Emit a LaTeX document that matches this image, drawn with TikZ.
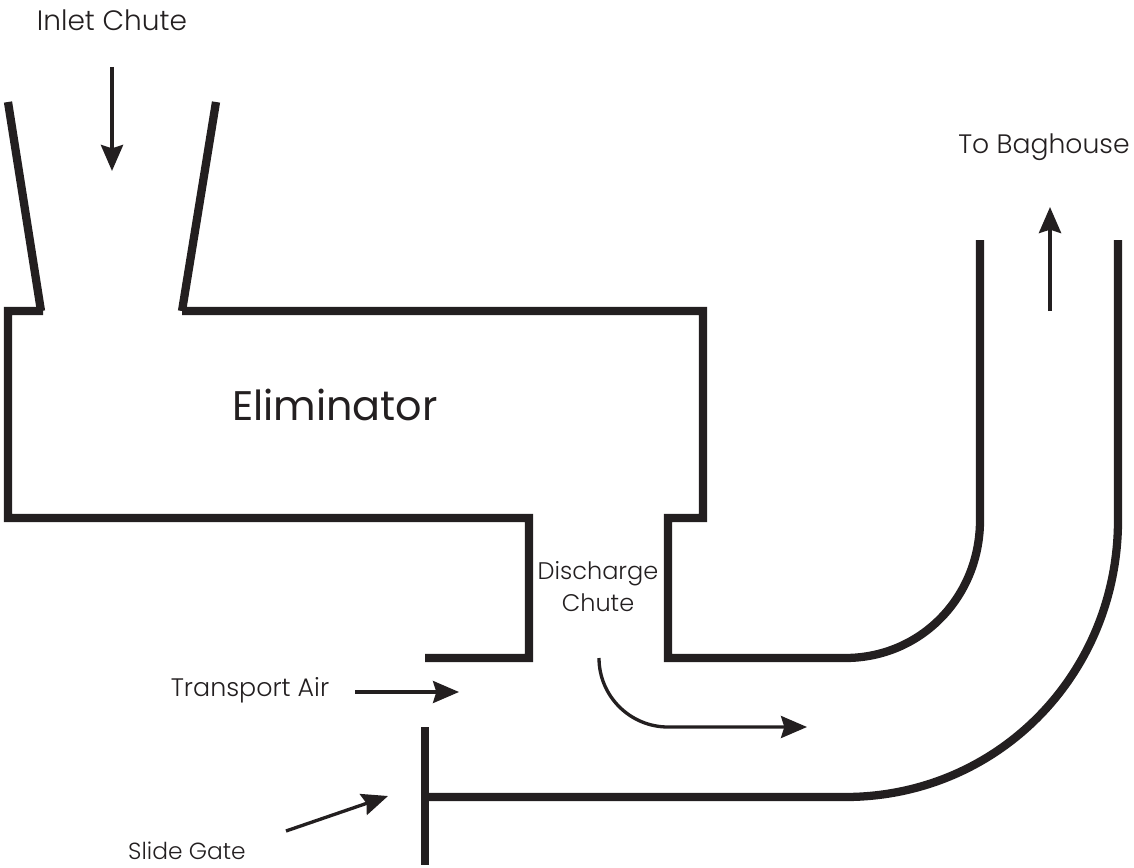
\documentclass[tikz,border=0pt]{standalone}
\usepackage{fontspec}
\setmainfont[UprightFont=* Light,BoldFont=*]{Poppins}
\usetikzlibrary{arrows.meta}
\definecolor{ink}{RGB}{35,31,32}
\tikzset{
  wall/.style={draw=ink,line width=6.2pt,line cap=butt,line join=miter},
  flow/.style={draw=ink,line width=2.5pt,-{Stealth[length=19.5pt,width=16.5pt,inset=2.5pt]}},
  heavyflow/.style={flow,line width=3pt},
  lab/.style={text=ink,align=center,inner sep=0pt},
  biglab/.style={text=ink,font=\bfseries\fontsize{31}{36}\selectfont,inner sep=0pt}
}
\begin{document}
\begin{tikzpicture}[x=0.75pt,y=-0.75pt]
\useasboundingbox (0,0) rectangle (1134,867);
% walls
\draw[wall] (8,102) -- (41,311) (43,311) -- (8,311) -- (8,518) -- (529,518) -- (529,658) -- (425,658);
\draw[wall] (216,102) -- (182,311) (182,311) -- (703,311) -- (703,518) -- (668,518) -- (668,658) -- (845,658)
  .. controls (921,658) and (980,597) .. (980,520) -- (980,240);
\draw[wall] (1118,240) -- (1118,520) .. controls (1118,674) and (998,797) .. (845,797) -- (425,797);
\draw[wall] (425,727) -- (425,865);
% flow endpoints
\coordinate (inA) at (112,67);   \coordinate (inB) at (112,171);
\coordinate (bagA) at (1050,311);\coordinate (bagB) at (1050,207);
\coordinate (airA) at (355,692); \coordinate (airB) at (459,692);
\coordinate (gateA) at (286,831);\coordinate (gateB) at (388,796);
\coordinate (disA) at (599,658); \coordinate (disB) at (668,727); \coordinate (disC) at (807,727);
\draw[heavyflow] (inA) -- (inB);
\draw[heavyflow] (bagA) -- (bagB);
\draw[flow] (airA) -- (airB);
\draw[flow] (gateA) -- (gateB);
\draw[flow] (disA) .. controls (599,696) and (630,727) .. (disB) -- (disC);
% labels
\node[lab,font=\fontsize{21}{25}\selectfont] (inlet) at (112,20) {Inlet Chute};
\node[lab,font=\fontsize{20}{24}\selectfont] (bag) at (1044,147) {To Baghouse};
\node[biglab] (elim) at (335,405) {Eliminator};
\node[lab,font=\fontsize{18}{24}\selectfont] (disch) at (598,587) {Discharge\\Chute};
\node[lab,font=\fontsize{19}{23}\selectfont] (air) at (250,690) {Transport Air};
\node[lab,font=\fontsize{17.5}{21}\selectfont] (gate) at (187,851) {Slide Gate};
\end{tikzpicture}
\end{document}
